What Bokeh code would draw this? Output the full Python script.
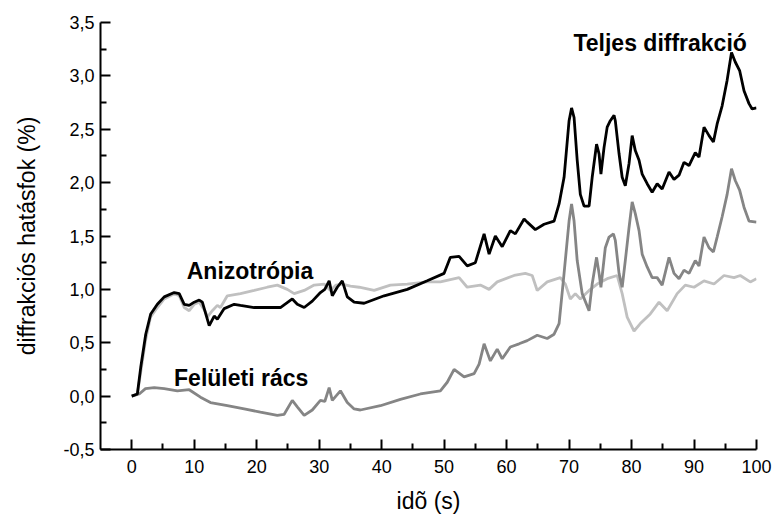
from bokeh.plotting import figure
from bokeh.models import Range1d, FixedTicker, CustomJSTickFormatter, Label
from bokeh.embed import file_html
from bokeh.resources import INLINE

# --- data ---
t_total = [0, 0.9, 1.44, 2.24, 3.04, 4.1, 5.2, 6.8, 7.6, 8.4, 9.2, 10.0, 10.8, 11.3, 12.4, 13.2, 13.7, 14.8, 16.4, 17.4,
           19.6, 21.7, 23.8, 25.7, 26.5, 27.6, 28.9, 30.2, 30.9, 31.6, 32.1, 32.9, 33.7, 34.5, 35.6, 37.2, 40.4, 44.1, 47.3, 50.0,
           51.0, 52.4, 53.7, 55.0, 56.4, 57.2, 58.2, 59.3, 60.6, 61.4, 62.8, 63.3, 64.6, 66.0, 67.6, 68.4, 69.2, 70.0, 70.4, 70.8,
           71.3, 71.8, 72.4, 73.2, 73.7, 74.4, 74.8, 75.1, 75.6, 76.1, 76.6, 77.2, 77.4, 78.0, 78.5, 79.0, 79.6, 80.1, 80.6, 81.2,
           81.7, 82.5, 83.3, 84.1, 84.9, 86.0, 86.8, 87.6, 88.4, 89.2, 90.2, 90.8, 91.6, 92.4, 93.1, 93.7, 94.5, 95.3, 96.0, 96.6,
           97.3, 98.0, 98.8, 99.3, 100]
total = [0.0, 0.02, 0.27, 0.58, 0.77, 0.86, 0.93, 0.97, 0.96, 0.86, 0.85, 0.88, 0.90, 0.88, 0.66, 0.75, 0.72, 0.82, 0.86, 0.85,
         0.83, 0.83, 0.83, 0.91, 0.86, 0.83, 0.89, 0.97, 1.00, 1.08, 0.94, 1.02, 1.08, 0.93, 0.88, 0.87, 0.94, 1.00, 1.08, 1.15,
         1.30, 1.31, 1.22, 1.25, 1.52, 1.33, 1.50, 1.40, 1.55, 1.52, 1.66, 1.63, 1.56, 1.61, 1.64, 1.80, 2.05, 2.58, 2.70, 2.61,
         2.21, 1.89, 1.78, 1.78, 2.05, 2.36, 2.27, 2.08, 2.33, 2.52, 2.58, 2.63, 2.58, 2.27, 2.05, 1.97, 2.18, 2.44, 2.30, 2.21,
         2.08, 1.99, 1.91, 1.99, 1.94, 2.10, 2.03, 2.07, 2.19, 2.16, 2.28, 2.24, 2.52, 2.44, 2.38, 2.55, 2.72, 2.96, 3.22, 3.13,
         3.05, 2.86, 2.74, 2.69, 2.70]

t_surface = [0, 1.2, 2.2, 3.6, 5.2, 7.3, 9.2, 11.0, 12.6, 15.3, 18.0, 20.6, 23.3, 24.4, 25.7, 26.5, 27.6, 28.9, 30.2, 30.9,
             31.6, 32.1, 33.4, 34.5, 35.6, 36.6, 39.8, 43.0, 46.2, 49.4, 50.5, 51.6, 53.2, 54.8, 55.6, 56.4, 57.4, 58.5, 59.3, 60.6,
             62.0, 63.3, 64.9, 66.5, 67.6, 68.4, 69.2, 70.0, 70.4, 70.8, 71.3, 72.1, 73.2, 73.7, 74.4, 74.8, 75.1, 75.8, 76.4, 77.1,
             77.4, 78.0, 78.5, 79.0, 79.6, 80.1, 80.6, 81.2, 81.7, 82.5, 83.3, 84.1, 84.9, 86.0, 86.8, 87.6, 88.4, 89.2, 90.2, 90.8,
             91.6, 92.4, 93.1, 93.7, 94.5, 95.3, 96.0, 96.6, 97.3, 98.0, 98.8, 100]
surface = [0.0, 0.02, 0.07, 0.08, 0.07, 0.05, 0.06, -0.01, -0.06, -0.09, -0.12, -0.15, -0.18, -0.17, -0.04, -0.10, -0.18, -0.13, -0.04, -0.05,
           0.08, -0.04, 0.05, -0.06, -0.12, -0.13, -0.09, -0.03, 0.02, 0.05, 0.13, 0.25, 0.18, 0.21, 0.30, 0.49, 0.33, 0.44, 0.35, 0.46,
           0.49, 0.52, 0.57, 0.54, 0.58, 0.68, 1.15, 1.64, 1.80, 1.64, 1.27, 0.96, 0.80, 1.05, 1.30, 1.15, 1.02, 1.39, 1.49, 1.52,
           1.46, 1.15, 1.02, 1.27, 1.58, 1.82, 1.71, 1.55, 1.33, 1.21, 1.11, 1.11, 1.04, 1.30, 1.15, 1.10, 1.18, 1.15, 1.27, 1.22,
           1.49, 1.39, 1.35, 1.49, 1.68, 1.89, 2.13, 2.02, 1.93, 1.77, 1.64, 1.63]

t_aniso = [0, 0.9, 1.4, 2.2, 3.0, 4.1, 5.2, 6.8, 7.6, 8.4, 9.2, 10.0, 10.8, 11.8, 12.1, 12.9, 13.7, 14.2, 15.3, 17.4,
           19.6, 21.7, 23.3, 24.9, 26.0, 27.6, 29.2, 30.8, 31.8, 32.7, 33.7, 35.0, 36.4, 38.8, 41.4, 44.1, 47.3, 49.4, 52.4, 53.7,
           55.8, 57.2, 58.5, 61.2, 63.0, 64.1, 64.9, 66.5, 68.6, 69.4, 70.2, 71.0, 71.8, 73.2, 74.5, 76.1, 77.7, 78.5, 79.3, 80.4,
           81.4, 83.0, 84.4, 85.7, 87.3, 88.6, 90.0, 91.6, 93.2, 94.8, 96.4, 97.4, 99.0, 100]
aniso = [0.0, 0.02, 0.21, 0.52, 0.74, 0.83, 0.91, 0.96, 0.94, 0.83, 0.80, 0.86, 0.88, 0.79, 0.74, 0.80, 0.85, 0.83, 0.94, 0.96,
         0.99, 1.02, 1.04, 1.00, 0.96, 0.99, 1.04, 1.05, 0.99, 1.04, 1.05, 1.03, 1.02, 0.99, 1.04, 1.05, 1.07, 1.07, 1.11, 1.02,
         1.04, 1.00, 1.07, 1.13, 1.15, 1.13, 0.99, 1.07, 1.11, 1.05, 0.91, 0.96, 0.91, 0.99, 1.05, 1.10, 1.13, 0.96, 0.74, 0.61,
         0.68, 0.77, 0.88, 0.80, 0.96, 1.04, 1.02, 1.08, 1.05, 1.13, 1.11, 1.13, 1.07, 1.10]

x_ticks = [0, 10, 20, 30, 40, 50, 60, 70, 80, 90, 100]
x_minor = [5, 15, 25, 35, 45, 55, 65, 75, 85, 95]
y_ticks = [-0.5, 0.0, 0.5, 1.0, 1.5, 2.0, 2.5, 3.0, 3.5]
y_minor = [-0.25, 0.25, 0.75, 1.25, 1.75, 2.25, 2.75, 3.25]

FONT = "Liberation Sans"

p = figure(width=773, height=516, x_range=Range1d(-5, 100), y_range=Range1d(-0.5, 3.5),
           output_backend="svg", toolbar_location=None,
           min_border_left=100, min_border_right=17, min_border_top=22, min_border_bottom=67)
p.outline_line_color = None
p.xgrid.grid_line_color = None
p.ygrid.grid_line_color = None
p.background_fill_color = "white"

p.line(t_aniso, aniso, line_color="#c0c0c0", line_width=2.8)
p.line(t_surface, surface, line_color="#858585", line_width=2.8)
p.line(t_total, total, line_color="#000000", line_width=2.8)

for ax in (p.xaxis[0], p.yaxis[0]):
    ax.axis_line_width = 2
    ax.axis_line_color = "black"
    ax.major_tick_in = 10
    ax.major_tick_out = 0
    ax.minor_tick_in = 6
    ax.minor_tick_out = 0
    ax.major_tick_line_width = 2
    ax.minor_tick_line_width = 2
    ax.major_tick_line_color = "black"
    ax.minor_tick_line_color = "black"
    ax.major_label_text_font = FONT
    ax.major_label_text_font_size = "18px"
    ax.major_label_text_color = "black"
    ax.axis_label_text_font = FONT
    ax.axis_label_text_font_size = "23px"
    ax.axis_label_text_font_style = "normal"
    ax.axis_label_text_color = "black"

p.xaxis[0].ticker = FixedTicker(ticks=x_ticks, minor_ticks=x_minor)
p.yaxis[0].ticker = FixedTicker(ticks=y_ticks, minor_ticks=y_minor)
p.yaxis[0].formatter = CustomJSTickFormatter(code="return tick.toFixed(1).replace('.', ',');")
p.xaxis[0].formatter = CustomJSTickFormatter(code="return tick.toFixed(0);")
p.xaxis[0].major_label_standoff = 10
p.yaxis[0].major_label_standoff = 6
p.xaxis[0].axis_label = "idõ (s)"
p.yaxis[0].axis_label = "diffrakciós hatásfok (%)"
p.xaxis[0].axis_label_standoff = 12
p.yaxis[0].axis_label_standoff = 20

for txt, x, y in [("Teljes diffrakció", 70.7, 3.31), ("Anizotrópia", 8.8, 1.176), ("Felületi rács", 6.77, 0.171)]:
    p.add_layout(Label(x=x, y=y, text=txt, text_font=FONT, text_font_size="23px",
                       text_font_style="bold", text_color="black", text_baseline="alphabetic"))

open("out.html", "w").write(file_html(p, INLINE))
